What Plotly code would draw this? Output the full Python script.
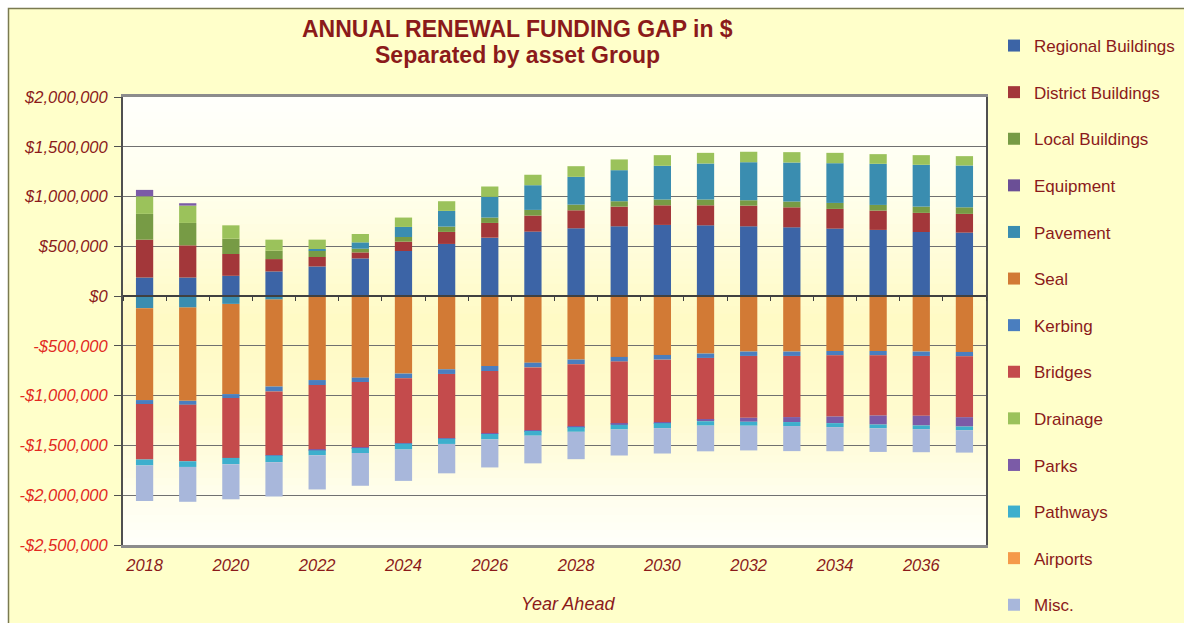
import plotly.graph_objects as go

# ---------------- data (values in $) ----------------
years = list(range(2018, 2038))
x_tick_years = list(range(2018, 2038, 2))

regional  = [187, 187, 204, 248, 298, 379, 453, 524, 587, 648, 681, 701, 715, 711, 701, 691, 678, 665, 644, 638]
district  = [380, 323, 219, 124, 95, 60, 94, 121, 148, 161, 181, 198, 197, 201, 208, 201, 198, 194, 192, 188]
local     = [259, 225, 154, 84, 63, 37, 47, 53, 54, 57, 57, 54, 58, 58, 54, 58, 60, 57, 63, 66]
equipment = [0] * 20
pavement  = [-121, -115, -78, -35, 17, 64, 101, 158, 208, 248, 279, 312, 339, 362, 382, 392, 399, 413, 420, 420]
seal      = [-923, -937, -906, -873, -843, -819, -778, -735, -702, -669, -637, -611, -591, -577, -557, -557, -551, -551, -557, -561]
kerbing   = [-40, -40, -40, -50, -50, -44, -47, -47, -50, -47, -47, -47, -47, -44, -44, -44, -44, -44, -44, -44]
bridges   = [-557, -567, -601, -638, -648, -655, -651, -644, -628, -631, -624, -624, -628, -621, -621, -614, -614, -604, -601, -611]
drainage  = [177, 174, 134, 111, 94, 84, 94, 97, 104, 105, 107, 108, 107, 107, 105, 104, 104, 97, 97, 94]
parks     = [64, 24, 0, -5, -8, -8, -5, -5, -5, -8, -8, -10, -10, -15, -40, -50, -67, -91, -97, -94]
pathways  = [-60, -57, -64, -67, -50, -50, -60, -54, -54, -47, -47, -47, -50, -44, -40, -40, -40, -37, -37, -37]
airports  = [0] * 20
misc      = [-357, -350, -352, -345, -343, -329, -315, -295, -282, -278, -275, -262, -255, -258, -248, -252, -242, -238, -232, -225]

series_names = ["Regional Buildings", "District Buildings", "Local Buildings", "Equipment",
                "Pavement", "Seal", "Kerbing", "Bridges", "Drainage", "Parks",
                "Pathways", "Airports", "Misc."]
series_values = [regional, district, local, equipment, pavement, seal, kerbing,
                 bridges, drainage, parks, pathways, airports, misc]
series_colors = ["#3C64A6", "#A3373A", "#779B45", "#6B4F96", "#3A8DB0", "#D27A35", "#4A7EBF",
                 "#C44B4C", "#9BC25B", "#7B5BA7", "#3DAFCD", "#F59A4A", "#A8B7DB"]

y_tick_values = [-2500000, -2000000, -1500000, -1000000, -500000, 0, 500000, 1000000, 1500000, 2000000]

# ---------------- geometry helpers (page pixels) ----------------
W, H = 1184, 623
L = 123
T = 97
R = W - 986
B = H - 545
PW = W - L - R
PH = H - T - B


def px_x(px):
    return (px - L) / PW


def px_y(py):
    return (H - B - py) / PH


DARK_RED = "#8B1A1A"
NEG_RED = "#E2291F"
FONT = "Liberation Sans, Arial, sans-serif"


def money(v):
    s = "${:,.0f}".format(abs(v))
    if v < 0:
        return "<span style='color:%s'>-%s</span>" % (NEG_RED, s)
    return s


fig = go.Figure()
for name, vals, col in zip(series_names, series_values, series_colors):
    fig.add_trace(go.Bar(
        x=years, y=[v * 1000 for v in vals], name=name,
        marker=dict(color=col, line=dict(width=0)),
        legendgroup=name,
    ))

# empty helper trace to activate the zero-line axis
fig.add_trace(go.Scatter(x=[], y=[], xaxis="x2", showlegend=False, hoverinfo="skip"))

# ---------------- background ----------------
shapes = []
# white strip outside the slide + slide frame
shapes.append(dict(type="rect", xref="paper", yref="paper",
                   x0=px_x(-20), x1=px_x(1400), y0=px_y(900), y1=px_y(-20),
                   fillcolor="white", line=dict(width=0), layer="below"))
shapes.append(dict(type="rect", xref="paper", yref="paper",
                   x0=px_x(8.5), x1=px_x(1400), y0=px_y(900), y1=px_y(8.5),
                   fillcolor="#FFFFCA", line=dict(color="#7A7A50", width=1.5), layer="below"))

# plot area vertical gradient (white -> yellow -> white)
stops = [(0.0, (255, 255, 252)), (0.2, (255, 255, 238)), (0.5, (255, 250, 196)),
         (0.72, (255, 251, 208)), (0.88, (255, 254, 236)), (1.0, (255, 255, 250))]


def col_at(f):
    for (f0, c0), (f1, c1) in zip(stops[:-1], stops[1:]):
        if f0 <= f <= f1:
            t = (f - f0) / (f1 - f0) if f1 > f0 else 0
            return tuple(round(a + (b - a) * t) for a, b in zip(c0, c1))
    return stops[-1][1]


N = 60
for i in range(N):
    ftop = i / N
    fbot = (i + 1) / N
    c = col_at((ftop + fbot) / 2)
    shapes.append(dict(type="rect", xref="x domain", yref="y domain",
                       x0=0, x1=1, y0=1 - fbot - 0.002, y1=1 - ftop,
                       fillcolor="rgb(%d,%d,%d)" % c, line=dict(width=0), layer="below"))

annotations = [
    dict(text="<b>ANNUAL RENEWAL FUNDING GAP in $</b>",
         xref="paper", yref="paper", x=px_x(517), y=px_y(29), xanchor="center", yanchor="middle",
         showarrow=False, font=dict(family=FONT, size=23, color=DARK_RED)),
    dict(text="<b>Separated by asset Group</b>",
         xref="paper", yref="paper", x=px_x(517), y=px_y(55), xanchor="center", yanchor="middle",
         showarrow=False, font=dict(family=FONT, size=23, color=DARK_RED)),
    dict(text="Year Ahead", xref="paper", yref="paper", x=px_x(568), y=px_y(604),
         xanchor="center", yanchor="middle", showarrow=False,
         font=dict(family=FONT, size=18, color=DARK_RED, style="italic")),
]

fig.update_layout(
    width=W, height=H,
    margin=dict(l=L, r=R, t=T, b=B, autoexpand=False),
    paper_bgcolor="white",
    plot_bgcolor="white",
    barmode="relative",
    bargap=0.6,
    shapes=shapes,
    annotations=annotations,
    font=dict(family=FONT, color=DARK_RED),
    showlegend=True,
    legend=dict(x=px_x(994), xanchor="left", y=px_y(28), yanchor="top",
                bgcolor="rgba(0,0,0,0)", traceorder="grouped", tracegroupgap=21.5,
                font=dict(family=FONT, size=17, color=DARK_RED),
                itemwidth=30, maxheight=640),
    xaxis=dict(range=[2017.5, 2037.5], tickmode="array", tickvals=x_tick_years,
               ticktext=[str(y) for y in x_tick_years], ticks="",
               tickfont=dict(family=FONT, size=16.5, color=DARK_RED, style="italic"),
               ticklabelstandoff=3,
               showgrid=False, zeroline=False, showline=True, linecolor="#8C8C8C",
               linewidth=3, mirror=True),
    xaxis2=dict(range=[2017.5, 2037.5], overlaying="x", anchor="free",
                position=2.5 / 4.5, side="bottom",
                tickmode="array", tickvals=[y - 0.5 for y in years] + [2037.5],
                ticks="outside", ticklen=4, tickcolor="#404040", tickwidth=1,
                showticklabels=False, showgrid=False, zeroline=False,
                showline=True, linecolor="#404040", linewidth=1.5),
    yaxis=dict(range=[-2500000, 2000000], tickmode="array", tickvals=y_tick_values,
               ticktext=[money(v) for v in y_tick_values],
               tickfont=dict(family=FONT, size=16.5, color=DARK_RED, style="italic"),
               ticks="outside", ticklen=7, tickcolor="#505050", ticklabelstandoff=3,
               showgrid=True, gridcolor="#707070", gridwidth=1,
               zeroline=False, showline=True, linecolor="#505050", linewidth=2,
               mirror=True),
)

fig.write_html("out.html",
               config={"displayModeBar": False},
               post_script="document.body.style.margin='0';document.body.style.overflow='hidden';")
